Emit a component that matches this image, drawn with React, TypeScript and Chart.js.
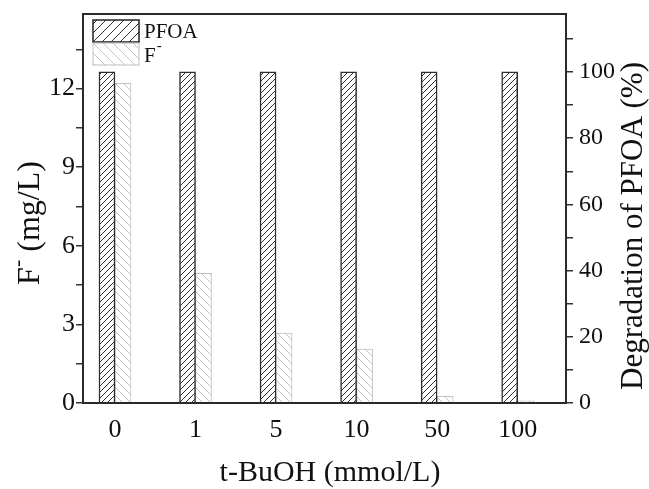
import React, { useEffect, useRef } from 'react';
import { Chart, registerables } from 'chart.js';

Chart.register(...registerables);

const categories = ['0', '1', '5', '10', '50', '100'];
const pfoaDegradation = [100, 100, 100, 100, 100, 100];
const fluorideConc = [12.2, 4.95, 2.67, 2.06, 0.25, 0.08];
const leftMajorTicks = [0, 3, 6, 9, 12];
const leftMinorTicks = [1.5, 4.5, 7.5, 10.5, 13.5];
const rightMajorTicks = [0, 20, 40, 60, 80, 100];
const rightMinorTicks = [10, 30, 50, 70, 90, 110];

const FONT = '"Liberation Serif", "Times New Roman", serif';

function makeHatch(size: number, color: string, lw: number, forward: boolean): CanvasPattern | string {
  const c = document.createElement('canvas');
  c.width = size;
  c.height = size;
  const g = c.getContext('2d');
  if (!g) return '#fff';
  g.fillStyle = '#ffffff';
  g.fillRect(0, 0, size, size);
  g.strokeStyle = color;
  g.lineWidth = lw;
  g.beginPath();
  if (forward) {
    g.moveTo(-1, size + 1); g.lineTo(size + 1, -1);
    g.moveTo(-1, 1); g.lineTo(1, -1);
    g.moveTo(size - 1, size + 1); g.lineTo(size + 1, size - 1);
  } else {
    g.moveTo(-1, -1); g.lineTo(size + 1, size + 1);
    g.moveTo(size - 1, -1); g.lineTo(size + 1, 1);
    g.moveTo(-1, size - 1); g.lineTo(1, size + 1);
  }
  g.stroke();
  const p = g.createPattern(c, 'repeat');
  return p || '#fff';
}

export default function App() {
  const ref = useRef<HTMLCanvasElement | null>(null);

  useEffect(() => {
    const canvas = ref.current;
    if (!canvas) return;
    const pfoaFill = makeHatch(6, '#333333', 1, true);
    const fFill = makeHatch(8, '#c4c4c4', 1, false);
    const pfoaLegendFill = makeHatch(9, '#333333', 1, true);
    const fLegendFill = makeHatch(10, '#c4c4c4', 1, false);

    const decor = {
      id: 'decor',
      afterDraw(chart: any) {
        const { ctx, chartArea: a } = chart;
        ctx.save();
        // frame
        ctx.strokeStyle = '#2a2a2a';
        ctx.lineWidth = 2;
        ctx.strokeRect(a.left, a.top, a.right - a.left, a.bottom - a.top);

        // legend
        const lx = 93, bw = 46, bh = 22;
        ctx.fillStyle = pfoaLegendFill as any;
        ctx.fillRect(lx, 20, bw, bh);
        ctx.strokeStyle = '#222';
        ctx.lineWidth = 1.5;
        ctx.strokeRect(lx, 20, bw, bh);
        ctx.fillStyle = fLegendFill as any;
        ctx.fillRect(lx, 43, bw, bh);
        ctx.strokeStyle = '#bdbdbd';
        ctx.lineWidth = 1;
        ctx.strokeRect(lx, 43, bw, bh);

        ctx.fillStyle = '#111';
        ctx.font = `21px ${FONT}`;
        ctx.textAlign = 'left';
        ctx.textBaseline = 'alphabetic';
        ctx.fillText('PFOA', 144, 38);
        ctx.fillText('F', 144, 62);
        const fw = ctx.measureText('F').width;
        ctx.font = `15px ${FONT}`;
        ctx.fillText('-', 144 + fw + 1, 50);

        // x title
        ctx.font = `30px ${FONT}`;
        ctx.textAlign = 'center';
        ctx.fillStyle = '#111';
        ctx.fillText('t-BuOH (mmol/L)', 330, 481);

        // left title (rotated)
        ctx.save();
        ctx.translate(39, 223);
        ctx.rotate(-Math.PI / 2);
        ctx.font = `32px ${FONT}`;
        const part1 = 'F';
        const part3 = ' (mg/L)';
        const w1 = ctx.measureText(part1).width;
        ctx.font = `22px ${FONT}`;
        const w2 = ctx.measureText('-').width;
        ctx.font = `32px ${FONT}`;
        const w3 = ctx.measureText(part3).width;
        const total = w1 + w2 + w3;
        const x0 = -total / 2;
        ctx.textAlign = 'left';
        ctx.fillText(part1, x0, 0);
        ctx.font = `22px ${FONT}`;
        ctx.fillText('-', x0 + w1, -15);
        ctx.font = `32px ${FONT}`;
        ctx.fillText(part3, x0 + w1 + w2, 0);
        ctx.restore();

        // right title
        ctx.save();
        ctx.translate(634, 226);
        ctx.rotate(-Math.PI / 2);
        ctx.font = `31px ${FONT}`;
        ctx.textAlign = 'center';
        ctx.textBaseline = 'middle';
        ctx.fillText('Degradation of PFOA (%)', 0, 0);
        ctx.restore();

        ctx.restore();
      },
    };

    const zeroPad = (s: any) => {
      s.paddingTop = 0;
      s.paddingBottom = 0;
      s.paddingLeft = 0;
      s.paddingRight = 0;
    };

    const chart = new Chart(canvas, {
      type: 'bar',
      data: {
        datasets: [
          {
            label: 'PFOA',
            data: pfoaDegradation.map((v, i) => ({ x: i, y: v })),
            yAxisID: 'y1',
            backgroundColor: pfoaFill as any,
            borderColor: '#2e2e2e',
            borderWidth: 1.5,
            barThickness: 16,
          },
          {
            label: 'F-',
            data: fluorideConc.map((v, i) => ({ x: i, y: v })),
            yAxisID: 'y',
            backgroundColor: fFill as any,
            borderColor: '#c0c0c0',
            borderWidth: 1,
            barThickness: 16,
          },
        ],
      },
      options: {
        responsive: false,
        animation: false,
        events: [],
        layout: { padding: { top: 14, left: 0, right: 0, bottom: 0 } },
        plugins: {
          legend: { display: false },
          tooltip: { enabled: false },
        },
        scales: {
          x: {
            type: 'linear',
            position: 'bottom',
            min: -0.397,
            max: 5.6,
            offset: false,
            grid: { display: false },
            border: { display: false },
            afterBuildTicks: (s: any) => {
              s.ticks = categories.map((_, i) => ({ value: i }));
            },
            afterFit: (s: any) => { s.height = 86; zeroPad(s); },
            ticks: {
              padding: 4,
              color: '#111',
              font: { family: FONT, size: 26 },
              maxRotation: 0,
              autoSkip: false,
              callback: (v: any) => categories[Math.round(Number(v))] ?? '',
            },
          },
          y: {
            type: 'linear',
            position: 'left',
            min: 0,
            max: 14.85,
            border: { display: false },
            grid: {
              drawOnChartArea: false,
              drawTicks: true,
              tickLength: 7,
              color: '#333',
              lineWidth: 1.5,
            },
            afterBuildTicks: (s: any) => {
              const all = [...leftMajorTicks, ...leftMinorTicks].sort((p, q) => p - q);
              s.ticks = all.map((v) => ({ value: v }));
            },
            afterFit: (s: any) => { s.width = 83; zeroPad(s); },
            ticks: {
              padding: 1,
              color: '#111',
              font: { family: FONT, size: 26 },
              autoSkip: false,
              callback: (v: any) => (leftMajorTicks.includes(Number(v)) ? String(v) : ''),
            },
          },
          y1: {
            type: 'linear',
            position: 'right',
            min: 0,
            max: 117.5,
            border: { display: false },
            grid: {
              drawOnChartArea: false,
              drawTicks: true,
              tickLength: 7,
              color: '#333',
              lineWidth: 1.5,
            },
            afterBuildTicks: (s: any) => {
              const all = [...rightMajorTicks, ...rightMinorTicks].sort((p, q) => p - q);
              s.ticks = all.map((v) => ({ value: v }));
            },
            afterFit: (s: any) => { s.width = 83; zeroPad(s); },
            ticks: {
              padding: 6,
              color: '#111',
              font: { family: FONT, size: 24 },
              autoSkip: false,
              callback: (v: any) => (rightMajorTicks.includes(Number(v)) ? String(v) : ''),
            },
          },
        },
      } as any,
      plugins: [decor],
    });

    return () => chart.destroy();
  }, []);

  return (
    <div style={{ position: 'absolute', left: 0, top: 0, width: 649, height: 489, background: '#fff' }}>
      <canvas ref={ref} width={649} height={489} style={{ display: 'block' }} />
    </div>
  );
}
